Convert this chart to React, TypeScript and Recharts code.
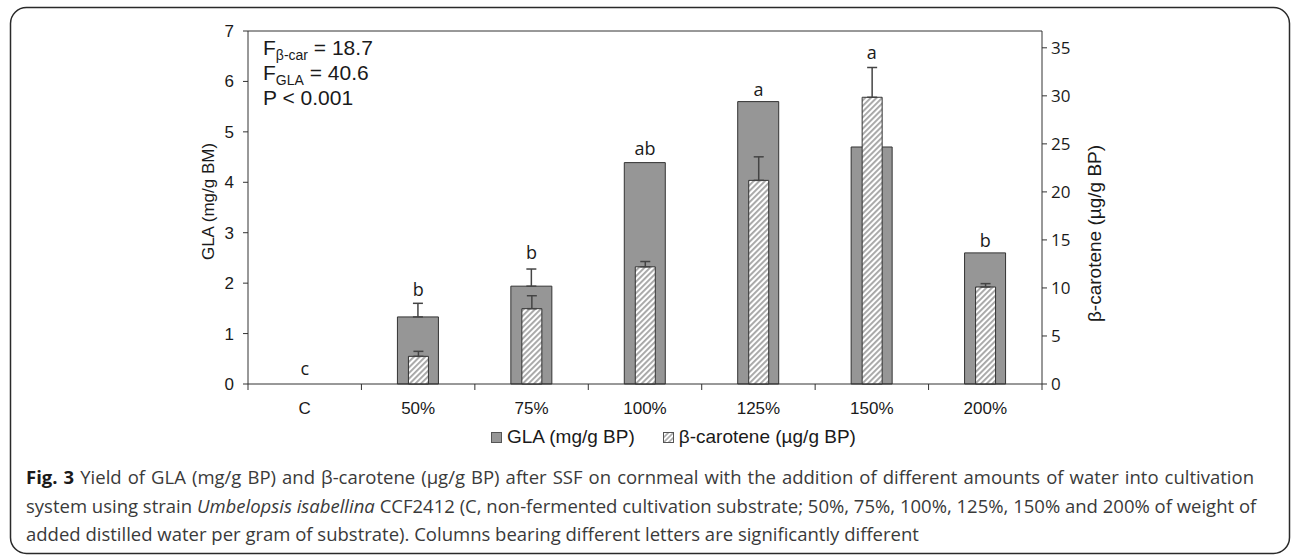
import React from 'react';
import {
  ComposedChart,
  Bar,
  Line,
  XAxis,
  YAxis,
  ErrorBar,
  Legend,
  ReferenceLine,
} from 'recharts';

const categories = ['C', '50%', '75%', '100%', '125%', '150%', '200%'];
const glaValues = [0, 1.33, 1.94, 4.39, 5.6, 4.7, 2.6];
const glaErrors = [null, 0.27, 0.34, null, null, null, null];
const betaValues = [0, 2.88, 7.84, 12.2, 21.2, 29.85, 10.1];
const betaErrors = [null, 0.52, 1.35, 0.55, 2.45, 3.1, 0.35];
const letters = ['c', 'b', 'b', 'ab', 'a', 'a', 'b'];
const letterHeights = [0.18, 1.75, 2.48, 4.54, 5.71, 6.45, 2.72];

const leftTicks = [0, 1, 2, 3, 4, 5, 6, 7];
const rightTicks = [0, 5, 10, 15, 20, 25, 30, 35];

const captionLines = [
  'Yield of GLA (mg/g BP) and β-carotene (µg/g BP) after SSF on cornmeal with the addition of different amounts of water into cultivation',
  'CCF2412 (C, non-fermented cultivation substrate; 50%, 75%, 100%, 125%, 150% and 200% of weight of',
  'added distilled water per gram of substrate). Columns bearing different letters are significantly different',
];

const GLA_FILL = '#969696';
const STROKE = '#333333';
const ARIAL = 'Arial, "Liberation Sans", sans-serif';
const OPEN = '"Open Sans", sans-serif';

const rows = categories.map((name, i) => ({
  name,
  gla: glaValues[i],
  glaErr: glaErrors[i] == null ? null : [0, glaErrors[i]],
  beta: betaValues[i],
  betaErr: betaErrors[i] == null ? null : [0, betaErrors[i]],
  letter: letters[i],
  letterY: letterHeights[i],
}));

// category ticks sit on the band boundaries, labels in the middle
const CategoryTick = (props: any) => {
  const { x, y, payload, index, width, visibleTicksCount } = props;
  const half = payload.offset ?? width / visibleTicksCount / 2;
  return (
    <g>
      <line x1={x - half} y1={y} x2={x - half} y2={y + 6} stroke={STROKE} />
      {index === visibleTicksCount - 1 && (
        <line x1={x + half} y1={y} x2={x + half} y2={y + 6} stroke={STROKE} />
      )}
      <text x={x} y={y + 30} textAnchor="middle" fontFamily={ARIAL} fontSize={17} fill="#1a1a1a">
        {payload.value}
      </text>
    </g>
  );
};

const LegendContent = () => (
  <div
    style={{
      height: 30,
      display: 'flex',
      alignItems: 'center',
      paddingLeft: 323,
      paddingTop: 4,
      boxSizing: 'border-box',
      fontFamily: ARIAL,
      fontSize: 19,
      color: '#1a1a1a',
    }}
  >
    <svg width={11} height={11} style={{ marginRight: 5 }}>
      <rect x={0.5} y={0.5} width={10} height={10} fill={GLA_FILL} stroke="#555" />
    </svg>
    <span>GLA (mg/g BP)</span>
    <svg width={11} height={11} style={{ marginLeft: 28, marginRight: 5 }}>
      <defs>
        <pattern id="hatchLegend" patternUnits="userSpaceOnUse" width={3.5} height={3.5} patternTransform="rotate(45)">
          <rect width={3.5} height={3.5} fill="#fff" />
          <rect width={1.6} height={3.5} fill="#a6a6a6" />
        </pattern>
      </defs>
      <rect x={0.5} y={0.5} width={10} height={10} fill="url(#hatchLegend)" stroke="#555" />
    </svg>
    <span>β-carotene (µg/g BP)</span>
  </div>
);

const LetterDot = (p: any) => (
  <text
    key={`l-${p.index}`}
    x={p.cx}
    y={p.cy}
    textAnchor="middle"
    fontFamily={OPEN}
    fontSize={18}
    fill="#1a1a1a"
  >
    {p.payload.letter}
  </text>
);

const lineStyle: React.CSSProperties = {
  width: 1228,
  whiteSpace: 'nowrap',
  textAlign: 'justify',
  textAlignLast: 'justify',
};

export default function App() {
  return (
    <div
      style={{
        position: 'fixed',
        left: 0,
        top: 0,
        width: 1293,
        height: 555,
        background: '#fff',
        overflow: 'hidden',
      }}
    >
      <div style={{ position: 'absolute', left: 0, top: 0 }}>
        <ComposedChart
          width={1293}
          height={450}
          data={rows}
          margin={{ top: 31, right: 171, left: 168, bottom: 0 }}
        >
          <defs>
            <pattern id="hatch" patternUnits="userSpaceOnUse" width={4} height={4} patternTransform="rotate(45)">
              <rect width={4} height={4} fill="#fff" />
              <rect width={1.9} height={4} fill="#a6a6a6" />
            </pattern>
          </defs>
          <XAxis
            xAxisId="gla"
            dataKey="name"
            height={36}
            tickLine={false}
            tickSize={0}
            tickMargin={0}
            axisLine={{ stroke: STROKE }}
            tick={<CategoryTick />}
            interval={0}
          />
          <XAxis xAxisId="beta" dataKey="name" height={0} hide />
          <YAxis
            yAxisId="left"
            width={80}
            domain={[0, 7]}
            ticks={leftTicks}
            tickSize={5}
            tickMargin={9}
            axisLine={{ stroke: STROKE }}
            tickLine={{ stroke: STROKE }}
            tick={{ fontFamily: ARIAL, fontSize: 17, fill: '#1a1a1a' }}
            label={{
              value: 'GLA (mg/g BM)',
              angle: -90,
              position: 'center',
              dy: -6,
              style: { fontFamily: ARIAL, fontSize: 17, fill: '#1a1a1a', textAnchor: 'middle' },
            }}
          />
          <YAxis
            yAxisId="right"
            orientation="right"
            width={80}
            domain={[0, 36.75]}
            ticks={rightTicks}
            tickSize={5}
            tickMargin={4}
            axisLine={{ stroke: STROKE }}
            tickLine={{ stroke: STROKE }}
            tick={{ fontFamily: OPEN, fontSize: 17, fill: '#1a1a1a' }}
            label={{
              value: 'β-carotene (µg/g BP)',
              angle: -90,
              position: 'center',
              dx: 12,
              dy: 26,
              style: { fontFamily: ARIAL, fontSize: 19, fill: '#1a1a1a', textAnchor: 'middle' },
            }}
          />
          <ReferenceLine xAxisId="gla" yAxisId="left" y={7} stroke={STROKE} />
          <Bar
            xAxisId="gla"
            yAxisId="left"
            dataKey="gla"
            name="GLA (mg/g BP)"
            barSize={41}
            fill={GLA_FILL}
            stroke={STROKE}
            strokeWidth={1}
            isAnimationActive={false}
          >
            <ErrorBar dataKey="glaErr" direction="y" width={5} stroke="#444" strokeWidth={1.5} />
          </Bar>
          <Bar
            xAxisId="beta"
            yAxisId="right"
            dataKey="beta"
            name="β-carotene (µg/g BP)"
            barSize={20}
            fill="url(#hatch)"
            stroke={STROKE}
            strokeWidth={1}
            isAnimationActive={false}
          >
            <ErrorBar dataKey="betaErr" direction="y" width={5} stroke="#444" strokeWidth={1.5} />
          </Bar>
          <Line
            xAxisId="gla"
            yAxisId="left"
            dataKey="letterY"
            stroke="none"
            dot={LetterDot}
            activeDot={false}
            legendType="none"
            isAnimationActive={false}
          />
          <Legend verticalAlign="bottom" height={30} content={<LegendContent />} />
        </ComposedChart>
      </div>
      <div
        style={{
          position: 'absolute',
          left: 263,
          top: 35,
          fontFamily: ARIAL,
          fontSize: 21,
          lineHeight: '25px',
          color: '#1a1a1a',
          whiteSpace: 'nowrap',
        }}
      >
        <div>
          F<sub style={{ fontSize: 14, lineHeight: 0, verticalAlign: -5 }}>β-car</sub> = 18.7
        </div>
        <div>
          F<sub style={{ fontSize: 14, lineHeight: 0, verticalAlign: -5 }}>GLA</sub> = 40.6
        </div>
        <div>P &lt; 0.001</div>
      </div>
      <div
        style={{
          position: 'absolute',
          left: 26,
          top: 463,
          fontFamily: OPEN,
          fontSize: 18.5,
          lineHeight: '28.5px',
          color: '#3a3a3a',
        }}
      >
        <div style={lineStyle}>
          <b style={{ color: '#1a1a1a' }}>Fig. 3</b> {captionLines[0]}
        </div>
        <div style={lineStyle}>
          system using strain <i>Umbelopsis isabellina</i> {captionLines[1]}
        </div>
        <div style={{ whiteSpace: 'nowrap' }}>{captionLines[2]}</div>
      </div>
      <svg
        width={1293}
        height={555}
        style={{ position: 'absolute', left: 0, top: 0, pointerEvents: 'none' }}
      >
        <rect x={10.5} y={7.5} width={1279} height={546} rx={16} ry={16} fill="none" stroke="#2a2a2a" strokeWidth={1.5} />
      </svg>
    </div>
  );
}
